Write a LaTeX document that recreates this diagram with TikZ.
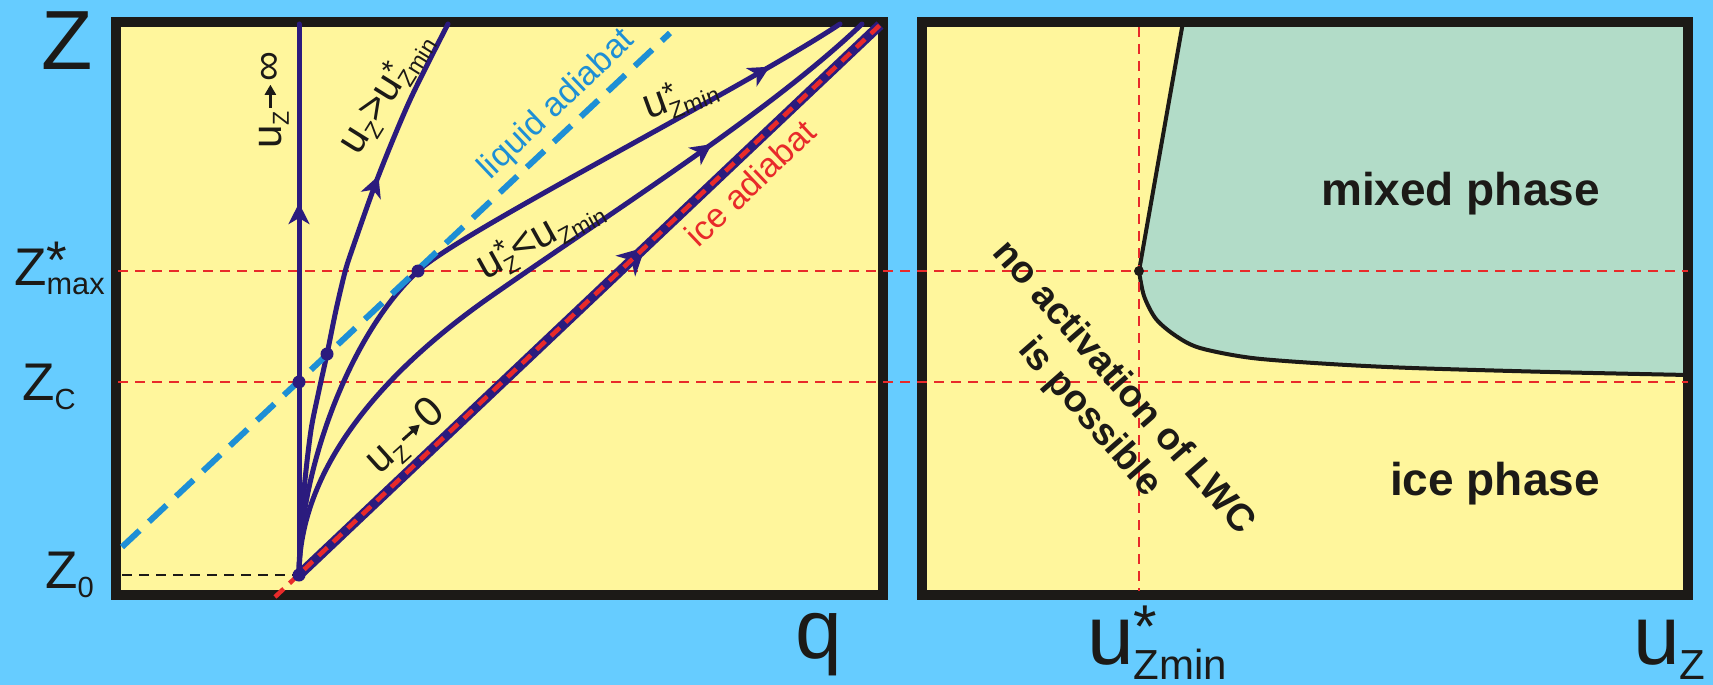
\documentclass[tikz,border=0pt]{standalone}
\usepackage{fontspec}
\usepackage{graphicx}
\setmainfont{Liberation Sans}
\usetikzlibrary{
  arrows.meta,
  decorations.markings
}
\definecolor{sky}{HTML}{66CCFF}
\definecolor{paper}{HTML}{FFF69C}
\definecolor{mixfill}{HTML}{B2DCC8}
\definecolor{rim}{HTML}{1C1A17}
\definecolor{traj}{HTML}{2B1B7E}
\definecolor{liquid}{HTML}{1E8FD5}
\definecolor{iceline}{HTML}{E82A2A}
% small sub/superscripts for the labels
\newcommand{\sublbl}[2][0.55]{\raisebox{-0.18em}{\scalebox{#1}{#2}}}
\newcommand{\starlbl}{\raisebox{0.2em}{\scalebox{0.72}{*}}}
\newcommand{\shortarr}{\hspace{0.04em}\tikz[baseline=-0.26em]\draw[line width=0.07em,-{Triangle[length=0.24em,width=0.26em]}] (0,0) -- (0.55em,0);\hspace{0.04em}}
\tikzset{
  panel/.style={fill=paper, minimum width=767pt, minimum height=573pt, inner sep=0pt},
  panel rim/.style={draw=rim, line width=10pt},
  traj line/.style={draw=traj, line width=5pt, line cap=round},
  arrowmark/.style={postaction={decorate}, decoration={markings,
    mark=at position #1 with {\arrow{Stealth[length=21pt,width=21pt,inset=6pt]}}}},
  big arrowmark/.style={postaction={decorate}, decoration={markings,
    mark=at position #1 with {\arrow{Stealth[length=27pt,width=28pt,inset=8pt]}}}},
  guide/.style={draw=iceline, line width=2.5pt, dash pattern=on 10pt off 7pt},
  dot/.style={circle, fill=traj, inner sep=0pt, minimum size=13pt},
  curve label/.style={font=\fontsize{42}{46}\selectfont, text=rim, inner sep=0pt},
  adiabat label/.style={font=\fontsize{34}{40}\selectfont, inner sep=0pt},
  axis label/.style={font=\fontsize{84}{90}\selectfont, text=rim, inner sep=0pt, anchor=base west},
  level label/.style={font=\fontsize{53}{60}\selectfont, text=rim, inner sep=0pt, anchor=base west},
  phase label/.style={font=\fontsize{46}{52}\selectfont\bfseries, text=rim, inner sep=0pt, anchor=base east}
}
\begin{document}
\begin{tikzpicture}[x=1pt,y=-1pt]
  % Canvas
  \fill[sky] (0,0) rectangle (1713,685);
  \useasboundingbox (0,0) rectangle (1713,685);

  % Panels
  \node[panel] (qpanel) at (499.5,308.5) {};
  \node[panel, minimum width=766pt] (upanel) at (1305,308.5) {};

  % Mixed phase region
  \filldraw[fill=mixfill, draw=rim, line width=4pt] (1183,22) -- plot[smooth] coordinates {
    (1139,271) (1144,296) (1156,319) (1176,336) (1200,348) (1252,358)
    (1330,364) (1412,368) (1550,372) (1688,375)} -- (1688,22) -- cycle;

  \draw[panel rim] (qpanel.south west) rectangle (qpanel.north east);
  \draw[panel rim] (upanel.south west) rectangle (upanel.north east);

  % Key points
  \coordinate (z0) at (299,575);
  \coordinate (icebot) at (275,597);
  \coordinate (icetop) at (880,25);
  \coordinate (liqbot) at (122,547);
  \coordinate (liqtop) at (670,33);

  % Guide lines
  \draw[guide] (118,271) -- (1688,271);
  \draw[guide] (118,382) -- (1688,382);
  \draw[guide] (1139,27) -- (1139,591);
  \draw[rim, line width=2.5pt, dash pattern=on 10pt off 7pt] (122,575) -- (z0);

  % Trajectories from Z0
  \draw[traj line, arrowmark=0.675] (z0) -- (299,24);
  \draw[traj line, arrowmark=0.71] plot[smooth] coordinates {
    (z0) (301,530) (305,480) (311,430) (318,395) (327,354) (336,310)
    (345,272) (352,250) (378,177) (410,100) (448,24)};
  \draw[traj line, arrowmark=0.9] (z0) .. controls (299,470) and (350,334) .. (418,271)
    .. controls (460,232) and (740,90) .. (840,24);
  \draw[traj line, arrowmark=0.763] (z0) .. controls (299,470) and (380,374) .. (490,297)
    .. controls (610,213) and (770,112) .. (862,24);
  \draw[traj line, line width=10pt, line cap=butt, big arrowmark=0.596] (z0) -- (icetop);

  % Adiabats
  \draw[iceline, line width=4.5pt, dash pattern=on 12pt off 8pt] (icebot) -- (icetop);
  \draw[liquid, line width=6pt, dash pattern=on 24pt off 13pt] (liqbot) -- (liqtop);

  % Crossing points
  \node[dot] (zcdot) at (299,382) {};
  \node[dot] (zqdot) at (327,354) {};
  \node[dot] (zmaxdot) at (418,271) {};
  \node[dot] (z0dot) at (z0) {};
  \node[dot, fill=rim, minimum size=10pt] (kneedot) at (1139,271) {};

  % Curve labels
  \node[curve label, rotate=90] (uinf) at (274,100) {u\sublbl{Z}\shortarr∞};
  \node[curve label, rotate=58] (ugt) at (386,93) {u\sublbl{Z}>u\rlap{\starlbl}\sublbl{Zmin}};
  \node[adiabat label, text=liquid, rotate=43.5] (liqlab) at (557,105) {liquid adiabat};
  \node[curve label, rotate=20] (uzmin) at (680,97) {u\rlap{\starlbl}\sublbl{Zmin}};
  \node[curve label, rotate=29] (ult) at (540,238) {u\rlap{\starlbl}\sublbl{Z}<u\sublbl{Zmin}};
  \node[adiabat label, text=iceline, rotate=43.4] (icelab) at (750,183) {ice adiabat};
  \node[curve label, rotate=42] (uzero) at (406,437) {u\sublbl{Z}\shortarr 0};

  % Axes
  \node[axis label] (zaxis) at (41,70) {Z};
  \node[axis label] (qaxis) at (795,658) {q};
  \node[axis label] (uaxis) at (1633,664) {u\sublbl[0.5]{Z}};
  \node[axis label] (uzminaxis) at (1087,664) {u\rlap{\starlbl}\sublbl[0.5]{Zmin}};
  \node[level label] (zmaxlab) at (14,285) {Z\rlap{\raisebox{0.12em}{*}}\sublbl[0.58]{max}};
  \node[level label] (zclab) at (22,400) {Z\sublbl{C}};
  \node[level label] (z0lab) at (45,588) {Z\sublbl{0}};

  % Phase regions
  \node[phase label] (mixlab) at (1600,205) {mixed phase};
  \node[phase label] (icephase) at (1600,495) {ice phase};
  \node[font=\fontsize{38}{45}\selectfont\bfseries, text=rim, align=center, inner sep=0pt,
        rotate=-48.8] (nolwc) at (1106,403) {no activation of LWC\\is possible};
\end{tikzpicture}
\end{document}
